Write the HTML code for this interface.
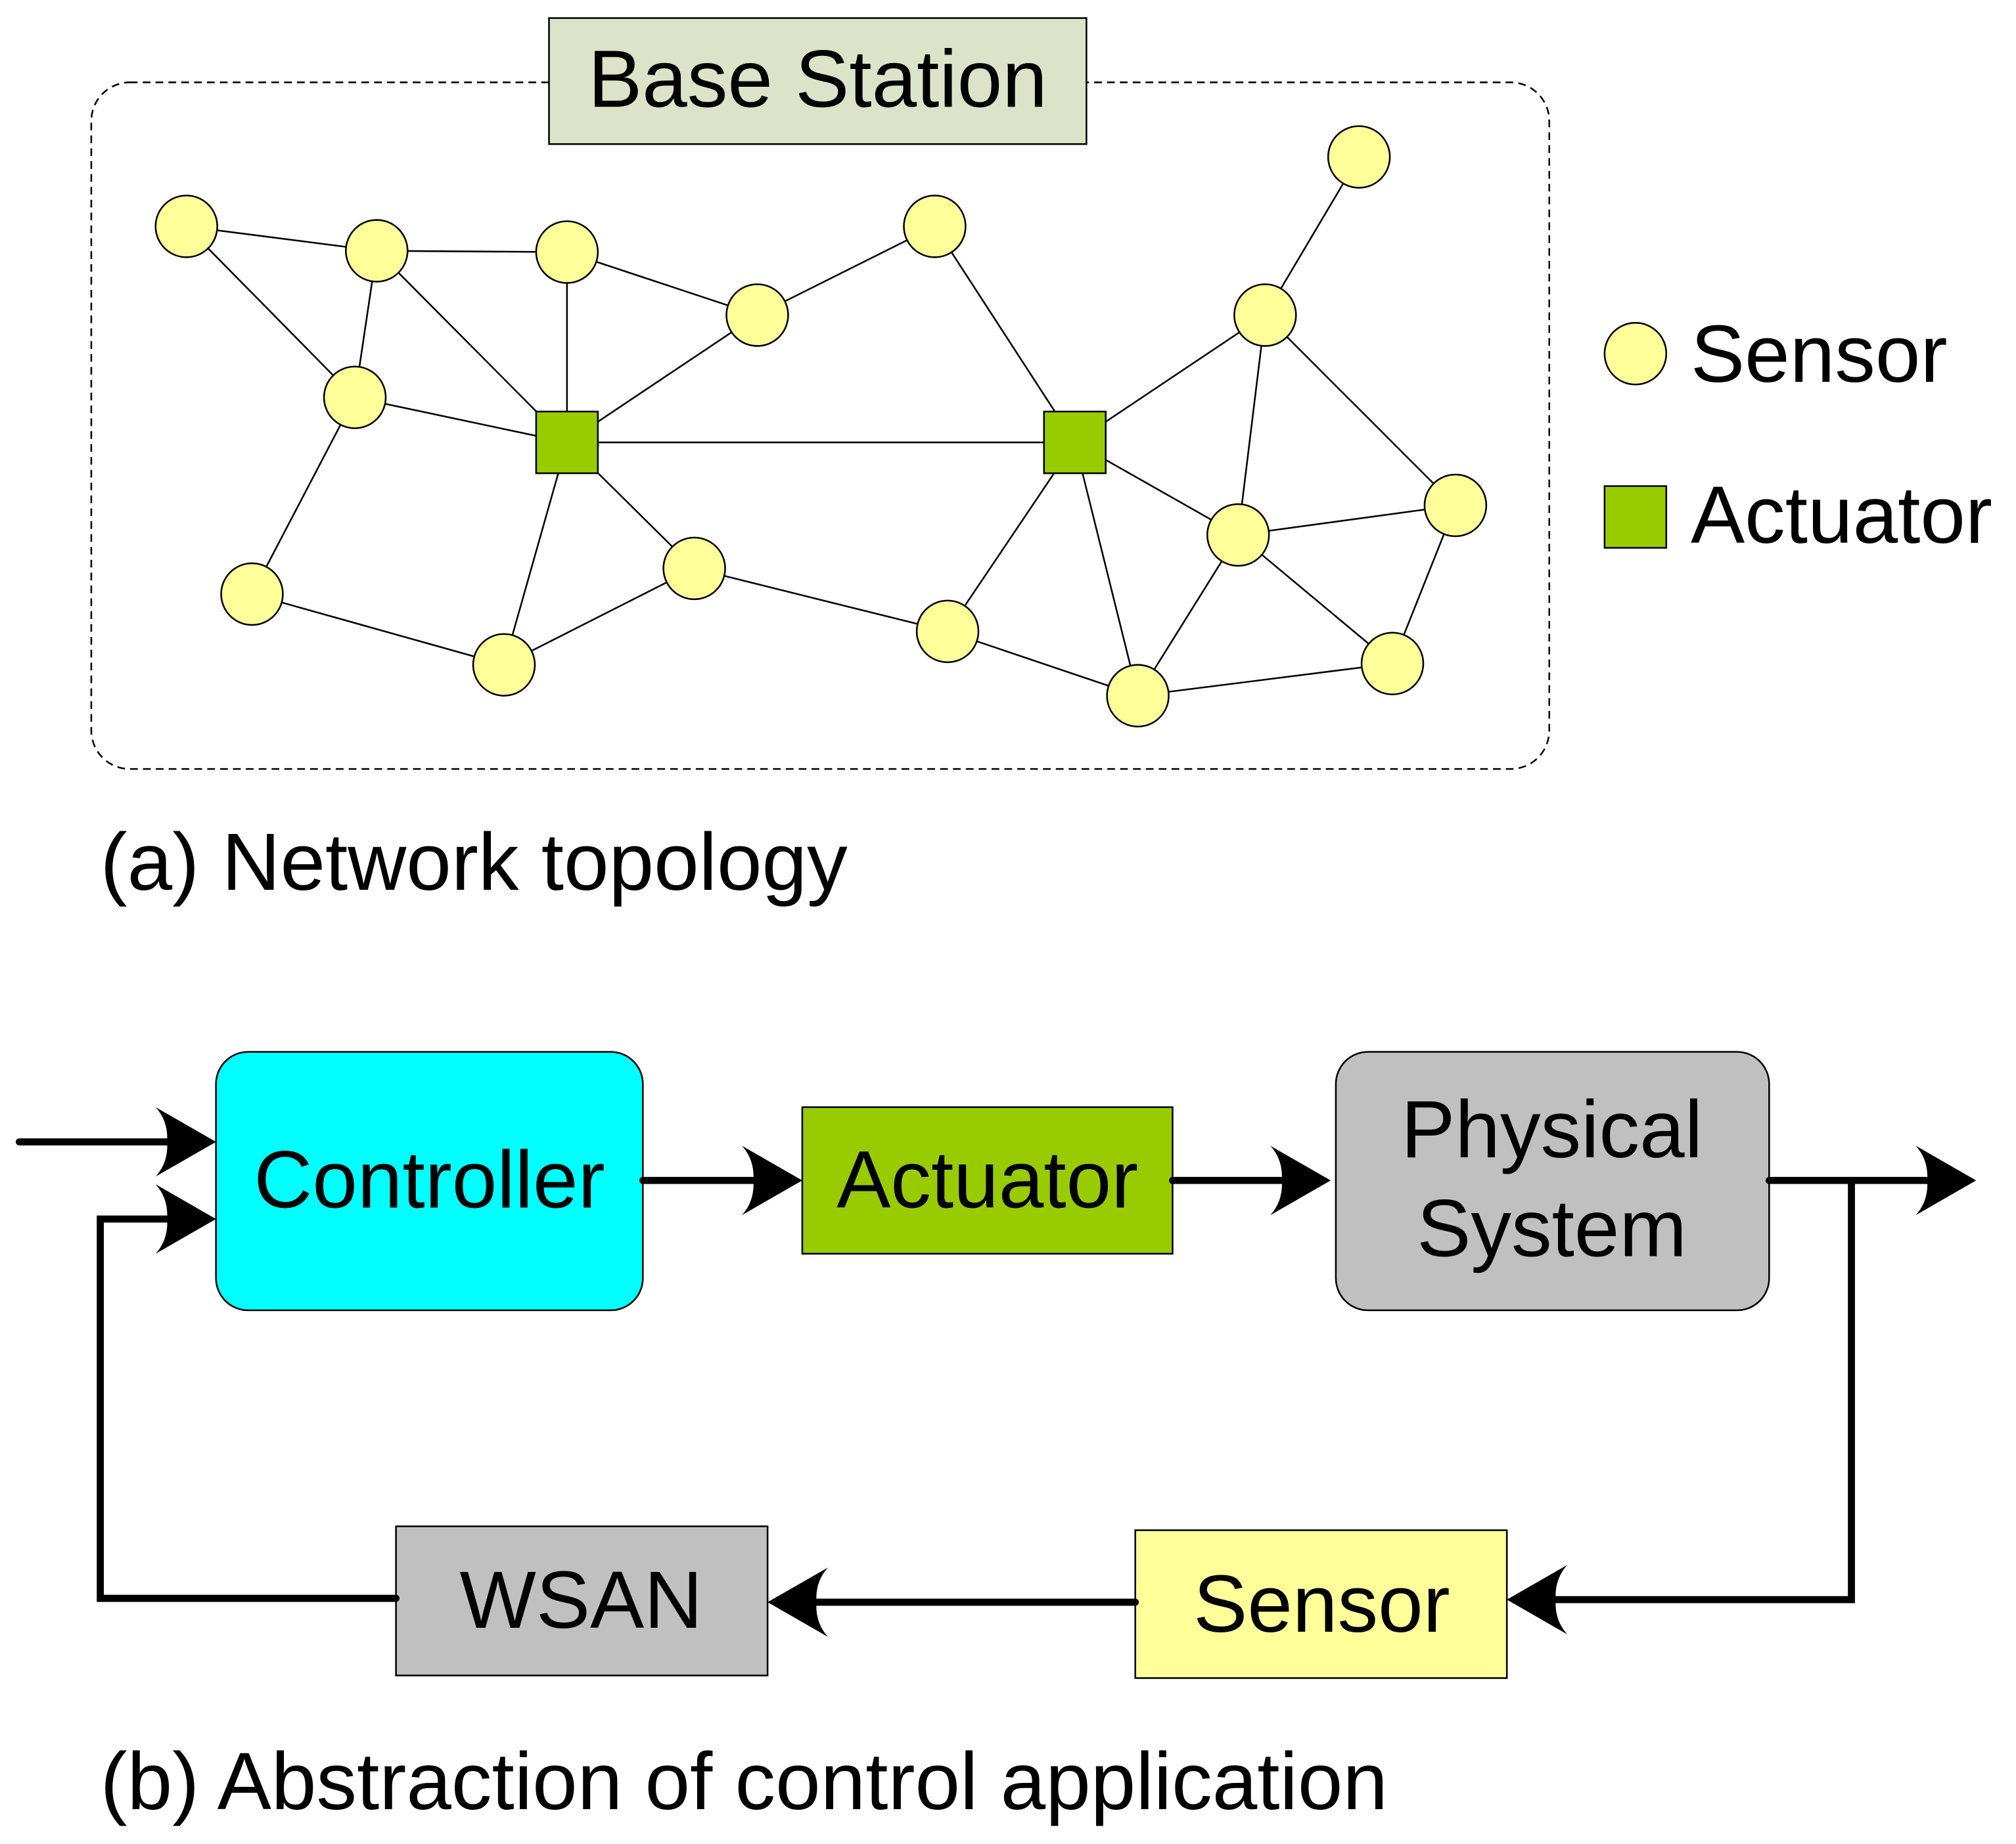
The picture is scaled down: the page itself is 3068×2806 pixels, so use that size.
<!DOCTYPE html>
<html><head><meta charset="utf-8"><style>
html,body{margin:0;padding:0;background:#fff;}
svg{display:block;}
text{font-family:"Liberation Sans",Arial,sans-serif;fill:#000;}
</style></head><body>
<svg width="3068" height="2806" viewBox="0 0 1568 1434" xmlns="http://www.w3.org/2000/svg">
<defs>
<path id="ah" d="M0,0 L-47,-27 Q-37,-16 -38,0 Q-37,16 -47,27 Z" fill="#000"/>
</defs>
<rect x="71" y="64" width="1134" height="534" rx="30" fill="none" stroke="#000" stroke-width="1.3" stroke-dasharray="6,4"/>
<rect x="427" y="14" width="418" height="98" fill="#dde3c9" stroke="#000" stroke-width="1.3"/>
<text x="636" y="83" font-size="63" text-anchor="middle">Base Station</text>
<g stroke="#000" stroke-width="1.3">
<line x1="145" y1="176" x2="293" y2="195"/>
<line x1="145" y1="176" x2="276" y2="309"/>
<line x1="293" y1="195" x2="441" y2="196"/>
<line x1="293" y1="195" x2="276" y2="309"/>
<line x1="293" y1="195" x2="441" y2="344"/>
<line x1="441" y1="196" x2="441" y2="344"/>
<line x1="441" y1="196" x2="589" y2="245"/>
<line x1="589" y1="245" x2="441" y2="344"/>
<line x1="727" y1="176" x2="589" y2="245"/>
<line x1="727" y1="176" x2="836" y2="344"/>
<line x1="1057" y1="122" x2="984" y2="245"/>
<line x1="984" y1="245" x2="836" y2="344"/>
<line x1="984" y1="245" x2="963" y2="416"/>
<line x1="984" y1="245" x2="1132" y2="393"/>
<line x1="276" y1="309" x2="441" y2="344"/>
<line x1="276" y1="309" x2="196" y2="462"/>
<line x1="196" y1="462" x2="392" y2="517"/>
<line x1="392" y1="517" x2="441" y2="344"/>
<line x1="392" y1="517" x2="540" y2="442"/>
<line x1="540" y1="442" x2="441" y2="344"/>
<line x1="540" y1="442" x2="737" y2="491"/>
<line x1="737" y1="491" x2="836" y2="344"/>
<line x1="737" y1="491" x2="885" y2="541"/>
<line x1="885" y1="541" x2="836" y2="344"/>
<line x1="885" y1="541" x2="963" y2="416"/>
<line x1="885" y1="541" x2="1083" y2="516"/>
<line x1="963" y1="416" x2="836" y2="344"/>
<line x1="963" y1="416" x2="1132" y2="393"/>
<line x1="963" y1="416" x2="1083" y2="516"/>
<line x1="1132" y1="393" x2="1083" y2="516"/>
<line x1="441" y1="344" x2="836" y2="344"/>
</g>
<g fill="#ffff99" stroke="#000" stroke-width="1.3">
<circle cx="145" cy="176" r="24"/><circle cx="293" cy="195" r="24"/><circle cx="441" cy="196" r="24"/>
<circle cx="589" cy="245" r="24"/><circle cx="727" cy="176" r="24"/><circle cx="1057" cy="122" r="24"/>
<circle cx="984" cy="245" r="24"/><circle cx="276" cy="309" r="24"/><circle cx="196" cy="462" r="24"/>
<circle cx="392" cy="517" r="24"/><circle cx="540" cy="442" r="24"/><circle cx="737" cy="491" r="24"/>
<circle cx="885" cy="541" r="24"/><circle cx="963" cy="416" r="24"/><circle cx="1132" cy="393" r="24"/>
<circle cx="1083" cy="516" r="24"/>
<circle cx="1272" cy="275" r="24"/>
</g>
<g fill="#99cc00" stroke="#000" stroke-width="1.3">
<rect x="417" y="320" width="48" height="48"/><rect x="812" y="320" width="48" height="48"/>
<rect x="1248" y="378" width="48" height="48"/>
</g>
<text x="1315" y="297" font-size="63">Sensor</text>
<text x="1315" y="422" font-size="63">Actuator</text>
<text x="78" y="692" font-size="63">(a) Network topology</text>

<rect x="168" y="818" width="332" height="201" rx="25" fill="#00ffff" stroke="#000" stroke-width="1.3"/>
<text x="334" y="939" font-size="63" text-anchor="middle">Controller</text>
<rect x="624" y="861" width="288" height="114" fill="#99cc00" stroke="#000" stroke-width="1.3"/>
<text x="768" y="939" font-size="63" text-anchor="middle">Actuator</text>
<rect x="1039" y="818" width="337" height="201" rx="25" fill="#c0c0c0" stroke="#000" stroke-width="1.3"/>
<text x="1207" y="900" font-size="63" text-anchor="middle">Physical</text>
<text x="1207" y="977" font-size="63" text-anchor="middle">System</text>
<rect x="883" y="1190" width="289" height="115" fill="#ffff99" stroke="#000" stroke-width="1.3"/>
<text x="1028" y="1269" font-size="63" text-anchor="middle">Sensor</text>
<rect x="308" y="1187" width="289" height="116" fill="#c0c0c0" stroke="#000" stroke-width="1.3"/>
<text x="452" y="1266" font-size="63" text-anchor="middle">WSAN</text>

<g stroke="#000" stroke-width="5.5" fill="none" stroke-linecap="round" stroke-linejoin="miter">
<line x1="15" y1="888" x2="140" y2="888"/>
<polyline points="308,1243 78,1243 78,948 140,948"/>
<line x1="500" y1="918" x2="596" y2="918"/>
<line x1="912" y1="918" x2="1007" y2="918"/>
<line x1="1376" y1="918" x2="1509" y2="918"/>
<polyline points="1440,918 1440,1244 1200,1244"/>
<line x1="883" y1="1246" x2="625" y2="1246"/>
</g>
<use href="#ah" transform="translate(168,888)"/>
<use href="#ah" transform="translate(168,948)"/>
<use href="#ah" transform="translate(624,918)"/>
<use href="#ah" transform="translate(1035,918)"/>
<use href="#ah" transform="translate(1537,918)"/>
<use href="#ah" transform="translate(1172,1244) scale(-1,1)"/>
<use href="#ah" transform="translate(597,1246) scale(-1,1)"/>
<text x="78" y="1407" font-size="63">(b) Abstraction of control application</text>
</svg>
</body></html>
